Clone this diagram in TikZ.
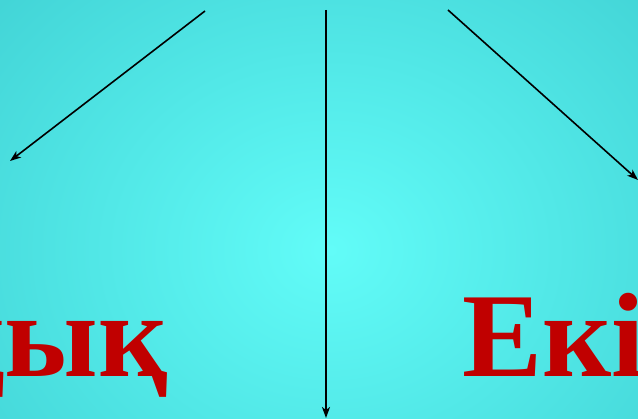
\documentclass[tikz,border=0pt]{standalone}
\usepackage{fontspec}
\setmainfont{Liberation Serif}
\usepackage{tikz}
\usetikzlibrary{arrows.meta, positioning, backgrounds}
\definecolor{fondoin}{HTML}{62FCF8}
\definecolor{fondoout}{HTML}{42D4D6}
\definecolor{rojo}{HTML}{C00000}

\begin{document}
\begin{tikzpicture}[
	x=1pt, y=1pt,
	% flechas y palabras
	myarrow/.style={-{Stealth[length=11pt, width=8pt, inset=3pt]}, line width=1.6pt, black},
	word/.style={inner sep=0pt, text=rojo, font=\fontsize{120}{120}\selectfont\bfseries}
	]
	
	\useasboundingbox (0,0) rectangle (638,419);
	\clip (0,0) rectangle (638,419);
	\shade[inner color=fondoin, outer color=fondoout] (-120,-216) rectangle (780,554);
	
	\node[word, anchor=base east] (izq) at (168,42) {дық};
	\node[word, anchor=base west] (der) at (462,42) {Екі};
	
	\coordinate (a1) at (205,408);
	\coordinate (a2) at (326,409);
	\coordinate (a3) at (448,409);
	\coordinate (b1) at (10,258);
	\coordinate (b2) at (326,1);
	\coordinate (b3) at (638,239);
	
	% Aquí las tres flechas
	\draw[myarrow] (a1) -- (b1);
	\draw[myarrow] (a2) -- (b2);
	\draw[myarrow] (a3) -- (b3);
	
\end{tikzpicture}
\end{document}
